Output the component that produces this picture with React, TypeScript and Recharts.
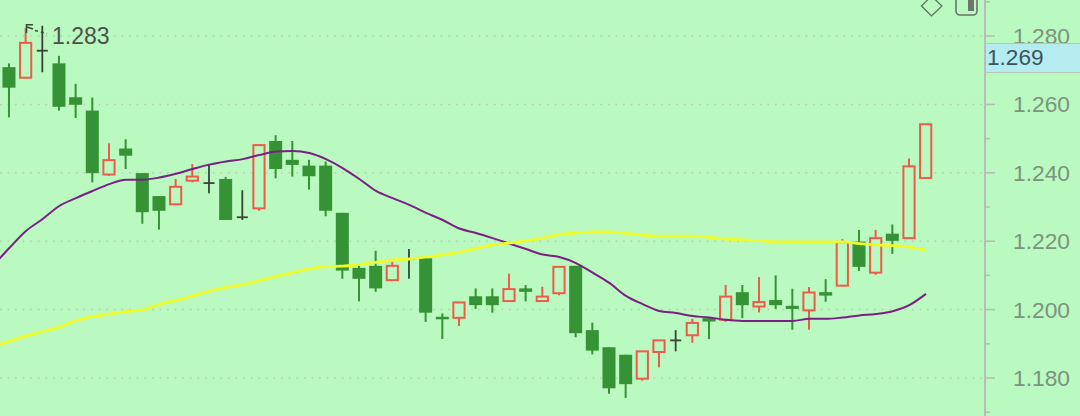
import React from "react";
import { ComposedChart, Bar, Line, XAxis, YAxis, CartesianGrid } from "recharts";

const opens = [1.2709,1.2678,1.2757,1.2720,1.2621,1.2582,1.2395,1.2471,1.2399,1.2332,1.2308,1.2377,1.2370,1.2382,1.2270,1.2296,1.2493,1.2438,1.2421,1.2421,1.2283,1.2122,1.2128,1.2086,1.2148,1.2150,1.1979,1.1976,1.2039,1.2039,1.2025,1.2062,1.2025,1.2048,1.2128,1.1940,1.1890,1.1868,1.1798,1.1876,1.1910,1.1925,1.1975,1.1970,1.2051,1.2009,1.2028,1.2011,1.1998,1.2051,1.2070,1.2199,1.2108,1.2222,1.2209,1.2385];
const closes = [1.2649,1.2780,1.2757,1.2593,1.2599,1.2399,1.2437,1.2450,1.2285,1.2289,1.2359,1.2389,1.2370,1.2262,1.2270,1.2481,1.2411,1.2423,1.2390,1.2289,1.2114,1.2090,1.2062,1.2128,1.2148,1.1991,1.1977,1.2021,1.2013,1.2013,1.2060,1.2052,1.2038,1.2125,1.1931,1.1880,1.1770,1.1782,1.1878,1.1910,1.1910,1.1961,1.1965,1.2038,1.2013,1.2022,1.2013,1.2002,1.2050,1.2041,1.2197,1.2125,1.2209,1.2201,1.2419,1.2542];
const highs = [1.2720,1.2823,1.2830,1.2742,1.2660,1.2620,1.2486,1.2498,1.2399,1.2332,1.2382,1.2426,1.2426,1.2388,1.2349,1.2481,1.2510,1.2493,1.2438,1.2433,1.2283,1.2128,1.2172,1.2140,1.2177,1.2150,1.1989,1.2021,1.2062,1.2062,1.2105,1.2072,1.2067,1.2125,1.2128,1.1962,1.1890,1.1868,1.1878,1.1910,1.1940,1.1973,1.1975,1.2072,1.2072,1.2095,1.2100,1.2061,1.2066,1.2089,1.2206,1.2233,1.2233,1.2249,1.2442,1.2542];
const lows = [1.2562,1.2678,1.2694,1.2582,1.2560,1.2372,1.2391,1.2411,1.2251,1.2234,1.2308,1.2372,1.2340,1.2262,1.2262,1.2289,1.2384,1.2389,1.2351,1.2273,1.2090,1.2024,1.2052,1.2086,1.2090,1.1964,1.1914,1.1952,1.2002,1.1991,1.2025,1.2024,1.2025,1.2042,1.1919,1.1869,1.1754,1.1742,1.1792,1.1831,1.1878,1.1903,1.1914,1.1964,1.1975,1.1992,1.2002,1.1941,1.1941,1.2023,1.2070,1.2113,1.2102,1.2163,1.2209,1.2385];
// The moving averages start one session before the first visible candle.
const purpleMA = [1.2127,1.2180,1.2230,1.2265,1.2303,1.2326,1.2347,1.2367,1.2380,1.2380,1.2386,1.2397,1.2411,1.2424,1.2433,1.2440,1.2452,1.2462,1.2464,1.2458,1.2440,1.2414,1.2382,1.2347,1.2326,1.2306,1.2283,1.2262,1.2237,1.2224,1.2209,1.2193,1.2177,1.2161,1.2154,1.2136,1.2108,1.2078,1.2040,1.2016,1.1996,1.1990,1.1981,1.1977,1.1970,1.1967,1.1967,1.1967,1.1967,1.1973,1.1973,1.1977,1.1983,1.1987,1.1995,1.2013,1.2046];
const yellowMA = [1.1892,1.1907,1.1923,1.1936,1.1949,1.1968,1.1980,1.1987,1.1994,1.1999,1.2016,1.2027,1.2040,1.2054,1.2065,1.2073,1.2085,1.2097,1.2108,1.2119,1.2126,1.2127,1.2132,1.2138,1.2145,1.2148,1.2154,1.2160,1.2168,1.2179,1.2189,1.2195,1.2201,1.2209,1.2220,1.2224,1.2227,1.2227,1.2223,1.2218,1.2215,1.2215,1.2215,1.2211,1.2206,1.2204,1.2202,1.2198,1.2198,1.2198,1.2198,1.2198,1.2193,1.2189,1.2187,1.2183,1.2174];
const majorTicks = [1.18, 1.2, 1.22, 1.24, 1.26, 1.28];
const minorTicks = [1.17, 1.19, 1.21, 1.23, 1.25, 1.27, 1.29];
const highLabel = "1.283";
const lastLabel = "1.269";

const rows = purpleMA.map((p, k) => {
  const c = k - 1;
  return {
    idx: c,
    purple: p,
    yellow: yellowMA[k],
    range: c >= 0 ? [lows[c], highs[c]] : null,
    open: c >= 0 ? opens[c] : null,
    close: c >= 0 ? closes[c] : null,
    high: c >= 0 ? highs[c] : null,
    low: c >= 0 ? lows[c] : null,
  };
});

const GREEN = "#359335";
const RED = "#ee5b4b";
const BLACK = "#3a4238";
const BG = "#baf9bf";
const FONT = "'Liberation Sans', Arial, sans-serif";

function Candle(props: any) {
  const { x, y, width, height, payload } = props;
  if (!payload || payload.open == null) return null;
  const { open, close, high, low } = payload;
  const k = height / (high - low);
  const cx = x + width / 2;
  const py = (v: number) => y + (high - v) * k;
  const top = py(Math.max(open, close));
  const bot = py(Math.min(open, close));
  if (open === close) {
    return (
      <g stroke={BLACK} strokeWidth={1.8}>
        <line x1={cx} x2={cx} y1={y} y2={y + height} />
        <line x1={cx - 5.5} x2={cx + 5.5} y1={top} y2={top} />
      </g>
    );
  }
  const up = close > open;
  const color = up ? RED : GREEN;
  return (
    <g>
      <line x1={cx} x2={cx} y1={y} y2={y + height} stroke={color} strokeWidth={2} />
      {up ? (
        <rect x={cx - 5.6} width={11.2} y={top} height={Math.max(bot - top, 1.5)} fill={BG} stroke={color} strokeWidth={2} />
      ) : (
        <rect x={cx - 6.5} width={13} y={top} height={Math.max(bot - top, 2.5)} fill={GREEN} />
      )}
    </g>
  );
}

function AxisTick(props: any) {
  const { x, y, payload } = props;
  const major = majorTicks.includes(payload.value);
  return (
    <g>
      <line x1={x} x2={x + (major ? 10 : 5)} y1={y} y2={y} stroke="#b4bcb4" strokeWidth={1.5} />
      {major ? (
        <text x={x + 28} y={y} dominantBaseline="central" fontFamily={FONT} fontSize={22.8} fill="#7a947e">
          {payload.value.toFixed(3)}
        </text>
      ) : null}
    </g>
  );
}

export default function App() {
  return (
    <div style={{ position: "absolute", left: 0, top: 0, width: 1080, height: 416, overflow: "hidden", background: BG, fontFamily: FONT }}>
      <ComposedChart width={1080} height={416} data={rows} margin={{ top: 0, right: 0, bottom: 0, left: 0 }}>
        <CartesianGrid vertical={false} horizontalValues={majorTicks} stroke="#c2c6ae" strokeWidth={1.5} strokeDasharray="1.5 6.1" />
        <XAxis type="number" dataKey="idx" scale="linear" domain={[-0.558, 58.54]} allowDataOverflow hide />
        <YAxis
          orientation="right"
          width={95}
          domain={[1.16889, 1.29053]}
          allowDataOverflow
          ticks={[...majorTicks, ...minorTicks].sort()}
          interval={0}
          tick={<AxisTick />}
          tickLine={false}
          tickSize={0}
          tickMargin={0}
          axisLine={{ stroke: "#b8bfb8", strokeWidth: 2 }}
        />
        <Bar dataKey="range" barSize={16} shape={<Candle />} isAnimationActive={false} />
        <Line dataKey="purple" type="monotone" stroke="#7a1f83" strokeWidth={2} dot={false} activeDot={false} isAnimationActive={false} />
        <Line dataKey="yellow" type="monotone" stroke="#eefb2c" strokeWidth={2.8} dot={false} activeDot={false} isAnimationActive={false} />
      </ComposedChart>

      <div style={{ position: "absolute", left: 52, top: 24, fontSize: 23, lineHeight: "25px", color: "#4a534a" }}>{highLabel}</div>

      <div style={{ position: "absolute", left: 986, top: 43, width: 93, height: 28, background: "#b4ecef", borderTop: "1.5px solid #b6c4bb", borderBottom: "1.5px solid #b6c4bb", fontSize: 22.6, lineHeight: "28px", color: "#3a5560", paddingLeft: 1 }}>
        {lastLabel}
      </div>

      <svg width={1080} height={416} style={{ position: "absolute", left: 0, top: 0, pointerEvents: "none" }}>
        <polyline points="26.5,33 26.5,24.8 33,24.8" fill="none" stroke="#3d4a3d" strokeWidth={1.6} />
        <line x1={27} y1={27} x2={33} y2={29} stroke="#3d4a3d" strokeWidth={1.6} />
        <line x1={35} y1={30.5} x2={47} y2={33.5} stroke="#3d4a3d" strokeWidth={1.6} strokeDasharray="3 3" />
        <polygon points="931.5,-4 942,6 931.5,16 921.5,6" fill="none" stroke="#5b6b5b" strokeWidth={1.2} />
        <rect x={956} y={-6} width={21} height={21} rx={4} fill="none" stroke="#6a746a" strokeWidth={1.6} />
        <rect x={968} y={-6} width={6} height={17} fill="#6f756f" />
      </svg>
    </div>
  );
}
